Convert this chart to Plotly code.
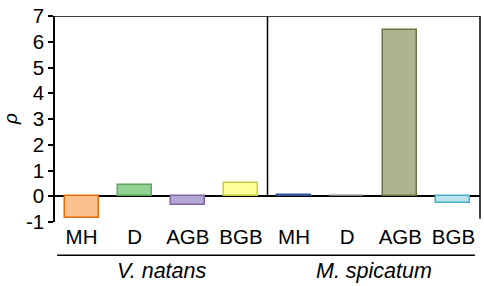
import plotly.graph_objects as go

categories = ["MH", "D", "AGB", "BGB", "MH", "D", "AGB", "BGB"]
groups = ["V. natans", "M. spicatum"]
values = [-0.85, 0.44, -0.34, 0.50, 0.05, 0.02, 6.44, -0.25]
fill_colors = ["#FAC090", "#92D292", "#B4A7D6", "#FFFF99",
               "#9DC3E6", "#BFBFBF", "#B0B48E", "#B7E4EE"]
line_colors = ["#E46C0A", "#5DA75D", "#8064A2", "#CCCC44",
               "#2F5597", "#808080", "#6B7045", "#4BACC6"]
y_ticks = [-1, 0, 1, 2, 3, 4, 5, 6, 7]
y_tick_labels = ["-1", "0", "1", "2", "3", "4", "5", "6", "7"]

x_pos = list(range(len(categories)))
FONT = "Arial, Liberation Sans, sans-serif"

fig = go.Figure()
fig.add_trace(go.Bar(
    x=x_pos, y=values, width=0.64,
    marker=dict(color=fill_colors, line=dict(color=line_colors, width=1.5)),
    showlegend=False,
))

fig.update_layout(
    width=484, height=286,
    margin=dict(l=55, r=4, t=11, b=64),
    paper_bgcolor="white", plot_bgcolor="white",
    font=dict(family=FONT, size=20, color="black"),
    bargap=0,
    xaxis=dict(
        range=[-0.5, 7.5], tickvals=x_pos, ticktext=categories,
        showline=False, showgrid=False, zeroline=False, ticks="",
        tickfont=dict(size=20.5),
    ),
    yaxis=dict(
        range=[-1, 7], tickvals=y_ticks, ticktext=y_tick_labels, showgrid=False,
        showline=True, linecolor="black", linewidth=1.5,
        ticks="outside", ticklen=5, tickwidth=1.5, tickcolor="black",
        zeroline=True, zerolinecolor="black", zerolinewidth=1.5,
        tickfont=dict(size=20.5), ticklabeloverflow="allow",
    ),
)

# frame: top line, right line, group divider
fig.add_shape(type="line", xref="paper", yref="y", x0=0, x1=1, y0=7, y1=7,
              line=dict(color="black", width=1.5))
fig.add_shape(type="line", xref="paper", yref="y", x0=1, x1=1, y0=-0.87, y1=7,
              line=dict(color="black", width=1.5))
fig.add_shape(type="line", xref="x", yref="y", x0=3.5, x1=3.5, y0=0, y1=7,
              line=dict(color="black", width=1.5))
# group underline
fig.add_shape(type="line", xref="paper", yref="paper", x0=0.005, x1=0.988,
              y0=-0.161, y1=-0.161, line=dict(color="black", width=1.5))

for i, g in enumerate(groups):
    fig.add_annotation(x=1.5 + 4 * i, y=-0.24, xref="x", yref="paper",
                       text="<i>%s</i>" % g, showarrow=False,
                       font=dict(size=21.5), xanchor="center", yanchor="middle")

fig.add_annotation(x=-0.106, y=0.5, xref="paper", yref="paper",
                   text="<i>ρ</i>", showarrow=False, textangle=-90,
                   font=dict(size=19), xanchor="center", yanchor="middle")

fig.write_html("out.html",
               config={"displayModeBar": False},
               post_script="document.body.style.margin='0';document.body.style.overflow='hidden';")
